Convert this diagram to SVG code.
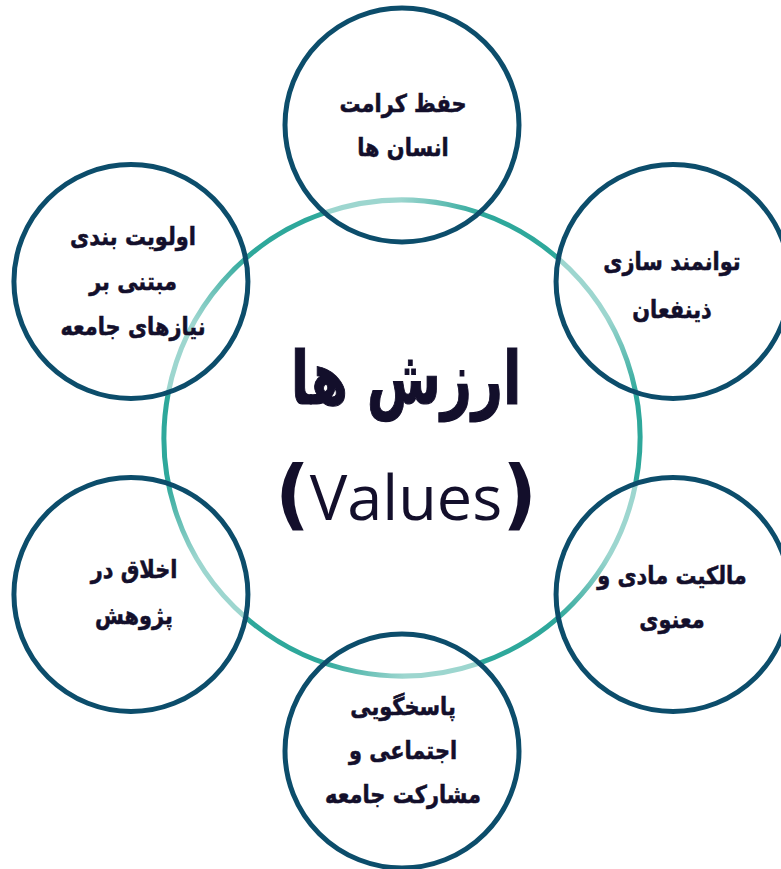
<svg xmlns="http://www.w3.org/2000/svg" width="781" height="869" viewBox="0 0 781 869">
  <defs>
    <style>
      .ring { fill: none; stroke-width: 5; }
      .node-circle { fill: none; stroke: #0c4d6b; stroke-width: 5; }
      .label { font-family: "DejaVu Sans", "Noto Sans", sans-serif; font-weight: bold; font-size: 22px; fill: #130f2b; stroke: #130f2b; stroke-width: 0.5; text-anchor: middle; }
      .title { font-family: "DejaVu Sans", "Noto Sans", sans-serif; font-weight: bold; font-size: 64px; fill: #130f2b; stroke: #130f2b; stroke-width: 1; text-anchor: middle; }
      .latin { font-family: "Open Sans", "Liberation Sans", sans-serif; font-weight: normal; font-size: 63px; fill: #130f2b; text-anchor: middle; }
      .paren { font-family: "DejaVu Sans", sans-serif; font-weight: bold; }
    </style>
    <!-- each ring arc fades from pale aqua into teal, clockwise -->
    <linearGradient id="g0" gradientUnits="userSpaceOnUse" x1="324.51" y1="212.97" x2="558.15" y2="258.38">
      <stop offset="0" stop-color="#9dd6cf"/><stop offset="0.3" stop-color="#9dd6cf"/><stop offset="0.65" stop-color="#2ea89b"/><stop offset="1" stop-color="#2ea89b"/>
    </linearGradient>
    <linearGradient id="g1" gradientUnits="userSpaceOnUse" x1="558.15" y1="258.38" x2="635.63" y2="483.41">
      <stop offset="0" stop-color="#9dd6cf"/><stop offset="0.3" stop-color="#9dd6cf"/><stop offset="0.65" stop-color="#2ea89b"/><stop offset="1" stop-color="#2ea89b"/>
    </linearGradient>
    <linearGradient id="g2" gradientUnits="userSpaceOnUse" x1="635.63" y1="483.41" x2="479.49" y2="663.03">
      <stop offset="0" stop-color="#9dd6cf"/><stop offset="0.3" stop-color="#9dd6cf"/><stop offset="0.65" stop-color="#2ea89b"/><stop offset="1" stop-color="#2ea89b"/>
    </linearGradient>
    <linearGradient id="g3" gradientUnits="userSpaceOnUse" x1="479.49" y1="663.03" x2="245.85" y2="617.62">
      <stop offset="0" stop-color="#9dd6cf"/><stop offset="0.3" stop-color="#9dd6cf"/><stop offset="0.65" stop-color="#2ea89b"/><stop offset="1" stop-color="#2ea89b"/>
    </linearGradient>
    <linearGradient id="g4" gradientUnits="userSpaceOnUse" x1="245.85" y1="617.62" x2="168.37" y2="392.59">
      <stop offset="0" stop-color="#9dd6cf"/><stop offset="0.3" stop-color="#9dd6cf"/><stop offset="0.65" stop-color="#2ea89b"/><stop offset="1" stop-color="#2ea89b"/>
    </linearGradient>
    <linearGradient id="g5" gradientUnits="userSpaceOnUse" x1="168.37" y1="392.59" x2="324.51" y2="212.97">
      <stop offset="0" stop-color="#9dd6cf"/><stop offset="0.3" stop-color="#9dd6cf"/><stop offset="0.65" stop-color="#2ea89b"/><stop offset="1" stop-color="#2ea89b"/>
    </linearGradient>
  </defs>

  <rect width="781" height="869" fill="#ffffff"/>

  <!-- central ring, six arcs linking the outer nodes -->
  <g id="connectors">
    <path class="ring" stroke="url(#g0)" d="M324.51 212.97 A238 238 0 0 1 558.15 258.38"/>
    <path class="ring" stroke="url(#g1)" d="M558.15 258.38 A238 238 0 0 1 635.63 483.41"/>
    <path class="ring" stroke="url(#g2)" d="M635.63 483.41 A238 238 0 0 1 479.49 663.03"/>
    <path class="ring" stroke="url(#g3)" d="M479.49 663.03 A238 238 0 0 1 245.85 617.62"/>
    <path class="ring" stroke="url(#g4)" d="M245.85 617.62 A238 238 0 0 1 168.37 392.59"/>
    <path class="ring" stroke="url(#g5)" d="M168.37 392.59 A238 238 0 0 1 324.51 212.97"/>
  </g>

  <g id="node-center">
    <text class="title" transform="translate(406 404) scale(0.84 1.15)">ارزش ها</text>
    <text class="latin" x="406" y="520"><tspan class="paren" font-size="76">(</tspan>Values<tspan class="paren" font-size="76">)</tspan></text>
  </g>

  <g id="node-dignity">
    <circle class="node-circle" cx="402" cy="125" r="117"/>
    <text class="label" transform="translate(403 112) scale(0.95 1.12)">حفظ کرامت</text>
    <text class="label" transform="translate(403 156) scale(0.95 1.12)">انسان ها</text>
  </g>

  <g id="node-empowerment">
    <circle class="node-circle" cx="673.07" cy="281.5" r="117"/>
    <text class="label" transform="translate(672 270) scale(0.95 1.12)">توانمند سازی</text>
    <text class="label" transform="translate(672 318) scale(0.95 1.12)">ذینفعان</text>
  </g>

  <g id="node-property">
    <circle class="node-circle" cx="673.07" cy="594.5" r="117"/>
    <text class="label" transform="translate(672 584) scale(0.95 1.12)">مالکیت مادی و</text>
    <text class="label" transform="translate(672 628) scale(0.95 1.12)">معنوی</text>
  </g>

  <g id="node-accountability">
    <circle class="node-circle" cx="402" cy="751" r="117"/>
    <text class="label" transform="translate(403 715) scale(0.95 1.12)">پاسخگویی</text>
    <text class="label" transform="translate(403 759) scale(0.95 1.12)">اجتماعی و</text>
    <text class="label" transform="translate(403 803) scale(0.95 1.12)">مشارکت جامعه</text>
  </g>

  <g id="node-ethics">
    <circle class="node-circle" cx="130.93" cy="594.5" r="117"/>
    <text class="label" transform="translate(134 578) scale(0.95 1.12)">اخلاق در</text>
    <text class="label" transform="translate(134 624) scale(0.95 1.12)">پژوهش</text>
  </g>

  <g id="node-priority">
    <circle class="node-circle" cx="130.93" cy="281.5" r="117"/>
    <text class="label" transform="translate(133 245) scale(0.95 1.12)">اولویت بندی</text>
    <text class="label" transform="translate(133 290) scale(0.95 1.12)">مبتنی بر</text>
    <text class="label" transform="translate(133 335) scale(0.95 1.12)">نیازهای جامعه</text>
  </g>
</svg>
